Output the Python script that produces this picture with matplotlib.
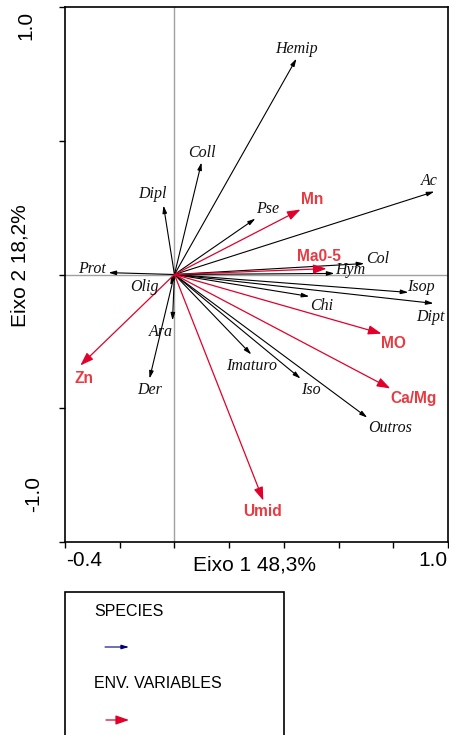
import matplotlib
matplotlib.use('Agg')
import matplotlib.pyplot as plt
from matplotlib.patches import Rectangle, FancyArrowPatch

# species scores (axis 1, axis 2)
species = ['Hemip', 'Ac', 'Pse', 'Col', 'Hym', 'Coll', 'Dipl', 'Prot', 'Olig',
           'Ara', 'Der', 'Isop', 'Dipt', 'Chi', 'Imaturo', 'Iso', 'Outros']
species_x = [0.446, 0.950, 0.296, 0.694, 0.585, 0.099, -0.040, -0.241, -0.015,
             -0.007, -0.091, 0.855, 0.947, 0.493, 0.281, 0.461, 0.705]
species_y = [0.807, 0.310, 0.209, 0.041, 0.004, 0.419, 0.258, 0.007, -0.041,
             -0.172, -0.389, -0.067, -0.108, -0.082, -0.299, -0.389, -0.535]

# environmental variables
env_vars = ['Mn', 'Ma0-5', 'MO', 'Ca/Mg', 'Umid', 'Zn']
env_x = [0.461, 0.556, 0.757, 0.789, 0.325, -0.344]
env_y = [0.243, 0.022, -0.221, -0.426, -0.845, -0.340]

# label offsets from the arrow tips, in pixels
species_off = [(0, 10), (-5, 11), (12, 10), (13, 5), (16, 3), (0, 9), (-11, 11),
               (-16, 4), (-26, -2), (-12, -11), (0, -11), (13, 5), (-3, -14),
               (12, -10), (0, -12), (10, -11), (23, -10)]
env_off = [(12, 10), (-8, 12), (12, -10), (23, -10), (-1, -11), (4, -13)]

RED = '#e2002a'
RED_TXT = '#e83a40'
SANS = 'Liberation Sans'
SERIF = 'Liberation Serif'
SP_HEAD = '-|>,head_length=0.55,head_width=0.16'
ENV_HEAD = '-|>,head_length=0.8,head_width=0.28'

fig = plt.figure(figsize=(4.49, 7.35), dpi=100)
ax = fig.add_axes([65 / 449, 193 / 735, 383 / 449, 535 / 735])
ax.set_xlim(-0.4, 1.0)
ax.set_ylim(-1.0, 1.0)

ax.axvline(0, color='#a0a0a0', lw=1.0, zorder=1)
ax.axhline(0, color='#a0a0a0', lw=1.0, zorder=1)

for name, x, y, off in zip(species, species_x, species_y, species_off):
    ax.annotate('', xy=(x, y), xytext=(0, 0),
                arrowprops=dict(arrowstyle=SP_HEAD, mutation_scale=8, color='black',
                                lw=0.8, shrinkA=0, shrinkB=0), zorder=3)
    ax.annotate(name, xy=(x, y), xytext=off, textcoords='offset pixels',
                ha='center', va='center', fontsize=11.5, family=SERIF,
                style='italic', color='#111111', zorder=4)

for name, x, y, off in zip(env_vars, env_x, env_y, env_off):
    ax.annotate('', xy=(x, y), xytext=(0, 0),
                arrowprops=dict(arrowstyle=ENV_HEAD, mutation_scale=10, color=RED,
                                lw=0.9, shrinkA=0, shrinkB=0), zorder=3)
    ax.annotate(name, xy=(x, y), xytext=off, textcoords='offset pixels',
                ha='center', va='center', fontsize=11.2, family=SANS,
                weight='bold', color=RED_TXT, zorder=4)

ax.set_xticks([-0.4, -0.2, 0.0, 0.2, 0.4, 0.6, 0.8, 1.0])
ax.set_yticks([-1.0, -0.5, 0.0, 0.5, 1.0])
ax.tick_params(direction='out', length=4, width=1, labelbottom=False, labelleft=False)
for s in ax.spines.values():
    s.set_linewidth(1.2)

# axis annotations
fig.text(66 / 449, 1 - 560 / 735, '-0.4', ha='left', va='center', fontsize=15, family=SANS)
fig.text(447 / 449, 1 - 561 / 735, '1.0', ha='right', va='center', fontsize=15, family=SANS)
fig.text(254 / 449, 1 - 565 / 735, 'Eixo 1 48,3%', ha='center', va='center', fontsize=15, family=SANS)
fig.text(26 / 449, 1 - 25 / 735, '1.0', ha='center', va='center', rotation=90, fontsize=15, family=SANS)
fig.text(34 / 449, 1 - 494 / 735, '-1.0', ha='center', va='center', rotation=90, fontsize=15, family=SANS)
fig.text(20 / 449, 1 - 266 / 735, 'Eixo 2 18,2%', ha='center', va='center', rotation=90, fontsize=15, family=SANS)

# legend box
fig.patches.append(Rectangle((65 / 449, -0.05), 219 / 449, 0.05 + 143 / 735,
                             transform=fig.transFigure, fill=False, lw=1.2, ec='black'))
fig.text(94 / 449, 1 - 612 / 735, 'SPECIES', ha='left', va='center', fontsize=11.5, family=SANS)
fig.text(94 / 449, 1 - 683 / 735, 'ENV. VARIABLES', ha='left', va='center', fontsize=11.5, family=SANS)
fig.add_artist(FancyArrowPatch((105 / 449, 1 - 647 / 735), (129 / 449, 1 - 647 / 735),
                               transform=fig.transFigure, arrowstyle=SP_HEAD,
                               mutation_scale=8, color='#00007f', lw=0.8,
                               shrinkA=0, shrinkB=0))
fig.add_artist(FancyArrowPatch((106 / 449, 1 - 720 / 735), (129 / 449, 1 - 720 / 735),
                               transform=fig.transFigure, arrowstyle=ENV_HEAD,
                               mutation_scale=10, color=RED, lw=0.9,
                               shrinkA=0, shrinkB=0))

fig.savefig('out.png', dpi=100)
